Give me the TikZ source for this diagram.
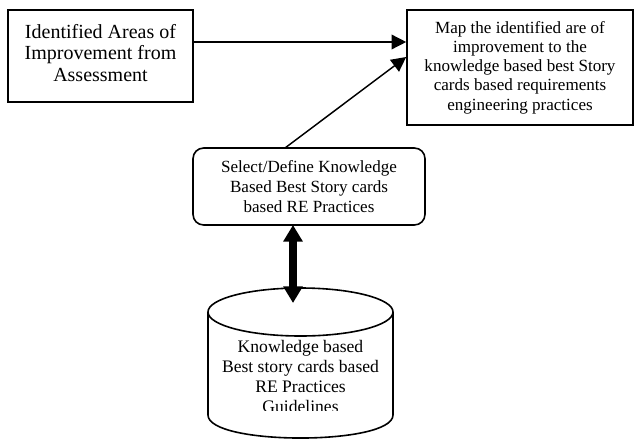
\documentclass[tikz,border=0pt]{standalone}
\usepackage{fontspec}
\setmainfont{Liberation Serif}
\usetikzlibrary{arrows.meta}
\tikzset{
  boxline/.style={line width=1.2pt},
  sqbox/.style={draw, boxline, align=center, inner sep=0pt},
  rbox/.style={draw, boxline, rounded corners=8pt, align=center, inner sep=0pt},
  conn/.style={line width=1.1pt, -{Triangle[length=11pt,width=11pt]}},
  fatconn/.style={line width=6pt, {Triangle[length=12.5pt,width=14pt]}-{Triangle[length=12.5pt,width=14pt]}},
  bigtxt/.style={font=\fontsize{15}{16.4}\selectfont},
  midtxt/.style={font=\fontsize{12.8}{14.4}\selectfont},
  rtxt/.style={font=\fontsize{12.8}{15.2}\selectfont},
  cyltxt/.style={font=\fontsize{13.2}{15}\selectfont},
}
\begin{document}
\begin{tikzpicture}[x=0.75pt,y=-0.75pt]
\useasboundingbox (0,0) rectangle (634,439);
% boxes
\node[sqbox, minimum width=138.75pt, minimum height=69pt] (src) at (100.5,56) {};
\node[bigtxt, align=center, inner sep=0pt] (srctxt) at (100.5,53)
  {Identified Areas of\\Improvement from\\Assessment};
\node[sqbox, midtxt, minimum width=169.5pt, minimum height=86.25pt] (map) at (520,67.5)
  {Map the identified are of\\improvement to the\\knowledge based best Story\\cards based requirements\\engineering practices};
\node[rbox, rtxt, minimum width=174pt, minimum height=57.75pt] (sel) at (309,186.5)
  {Select/Define Knowledge\\Based Best Story cards\\based RE Practices};
% cylinder
\draw[boxline, fill=white] (208,312) -- (208,415) .. controls (208,445.7) and (393,445.7) .. (393,415) -- (393,312);
\draw[boxline] (300.5,312) ellipse [x radius=69.375pt, y radius=18pt];
\coordinate (dbtop) at (293,303);
\begin{scope}
\clip (208,330) rectangle (393,410);
\node[cyltxt, align=center, anchor=north, inner sep=0pt] (db) at (300.5,340)
  {Knowledge based\\Best story cards based\\RE Practices\\Guidelines};
\end{scope}
% connectors
\coordinate (a1) at (src.east |- 0,42);
\coordinate (a2) at (map.west |- 0,42);
\draw[conn] (a1) -- (a2);
\coordinate (d1) at (285,148);
\coordinate (d2) at (map.west |- 0,57);
\draw[conn] (d1) -- (d2);
\coordinate (f1) at (293,225);
\draw[fatconn] (f1) -- (dbtop);
\end{tikzpicture}
\end{document}
